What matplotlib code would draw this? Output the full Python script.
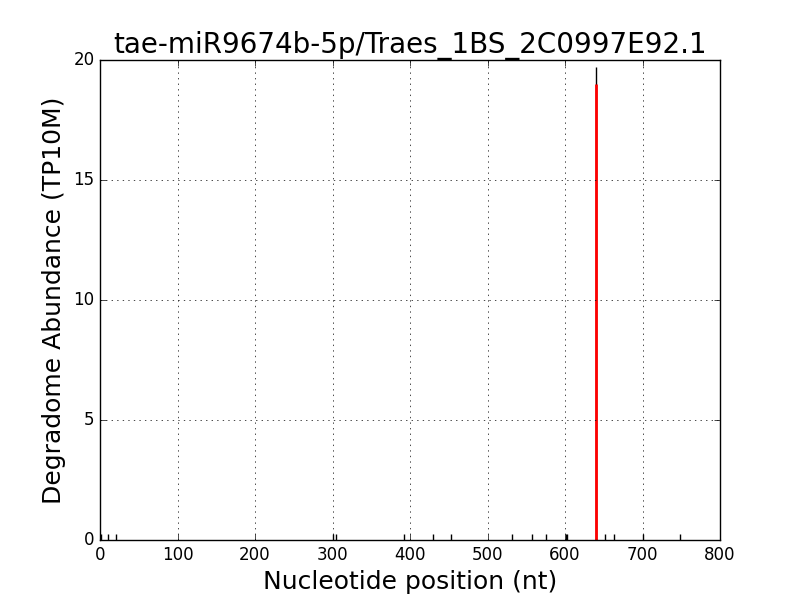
import matplotlib
matplotlib.use("Agg")
import matplotlib.pyplot as plt

plt.style.use("classic")

positions = [1, 10, 20, 301, 304, 392, 430, 453, 532, 558, 575, 601, 603, 652, 663, 701, 748, 640]
abundance = [0.25, 0.25, 0.25, 0.25, 0.25, 0.25, 0.25, 0.25, 0.25, 0.25, 0.25, 0.25, 0.25, 0.25, 0.25, 0.25, 0.25, 19.7]
target_pos = [640]
target_val = [19.0]

fig, ax = plt.subplots(figsize=(8, 6), dpi=100)
ax.vlines(positions, 0, abundance, colors="black", linewidth=1)
ax.vlines(target_pos, 0, target_val, colors="red", linewidth=2)
ax.set_xlim(0, 800)
ax.set_ylim(0, 20)
ax.set_yticks([0, 5, 10, 15, 20])
ax.grid(True)
ax.set_title("tae-miR9674b-5p/Traes_1BS_2C0997E92.1", fontsize=20)
ax.set_xlabel("Nucleotide position (nt)", fontsize=18)
ax.set_ylabel("Degradome Abundance (TP10M)", fontsize=18)
fig.savefig("out.png", dpi=100)
